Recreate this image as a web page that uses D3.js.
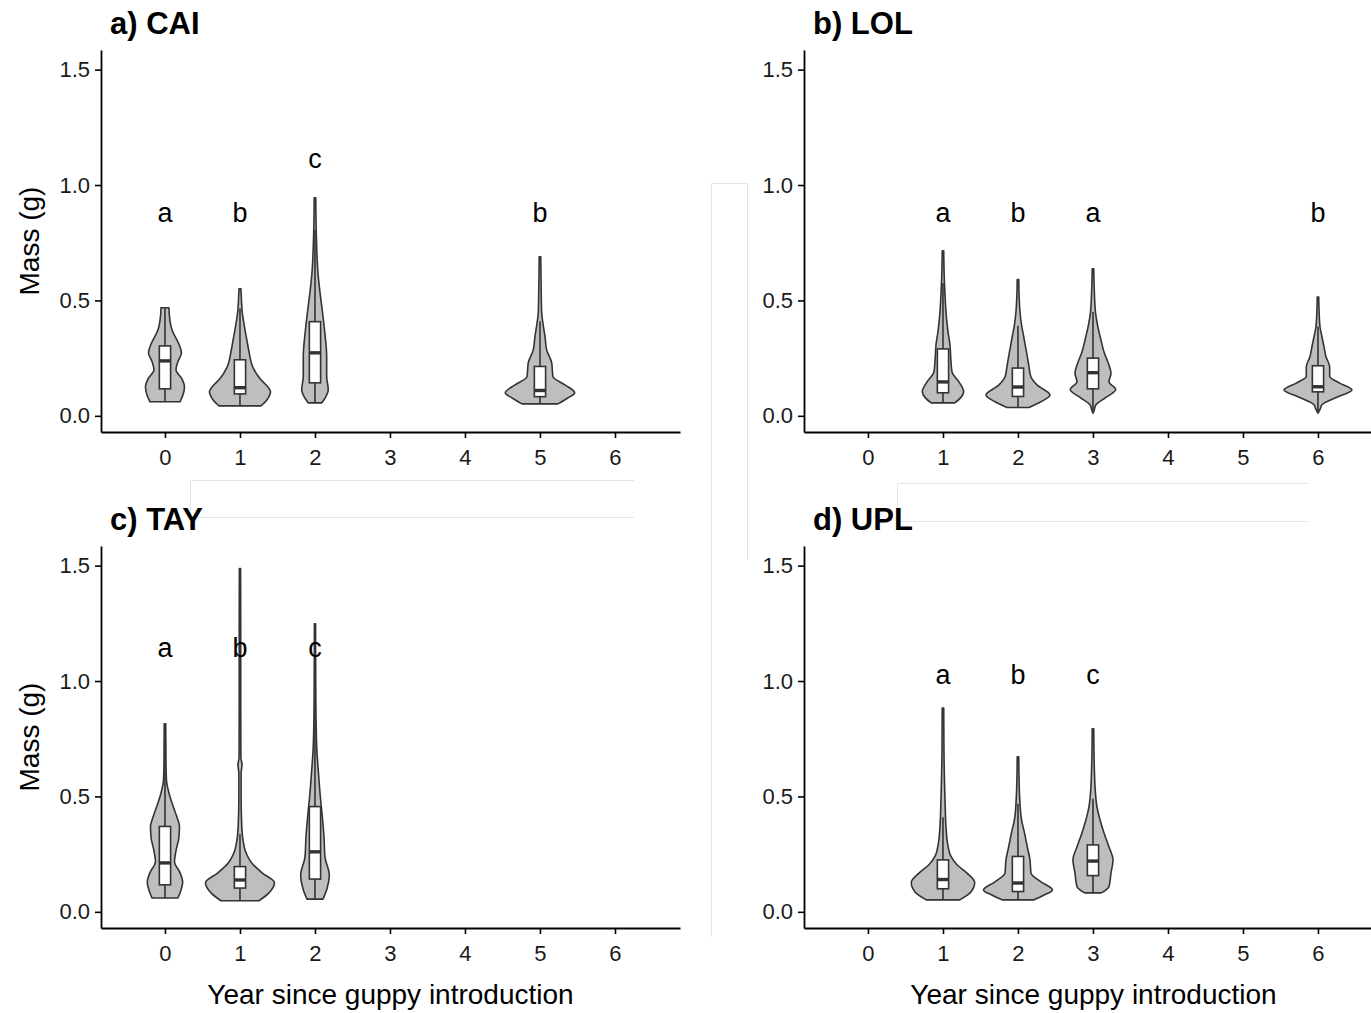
<!DOCTYPE html>
<html>
<head>
<meta charset="utf-8">
<script src="https://cdn.jsdelivr.net/npm/d3@7"></script>
<style>
  html, body { margin: 0; padding: 0; background: #ffffff; }
  svg { display: block; font-family: "Liberation Sans", Arial, Helvetica, sans-serif; }
</style>
</head>
<body>
<svg id="chart" width="1371" height="1013"></svg>
<script>
// ---- data ---------------------------------------------------------------
const yearTicks = [0, 1, 2, 3, 4, 5, 6];
const massTicks = [0, 0.5, 1.0, 1.5];
const siteTitles = ["a) CAI", "b) LOL", "c) TAY", "d) UPL"];
const xTitle = "Year since guppy introduction";
const yTitle = "Mass (g)";

// years sampled at each site
const caiYears = [0, 1, 2, 5];
const lolYears = [1, 2, 3, 6];
const tayYears = [0, 1, 2];
const uplYears = [1, 2, 3];

// significance letters and the mass at which they sit
const caiLetters = ["a", "b", "c", "b"];
const lolLetters = ["a", "b", "a", "b"];
const tayLetters = ["a", "b", "c"];
const uplLetters = ["a", "b", "c"];
const caiLetterMass = [0.84, 0.84, 1.075, 0.84];
const lolLetterMass = [0.84, 0.84, 0.84, 0.84];
const tayLetterMass = [1.105, 1.105, 1.105];
const uplLetterMass = [0.988, 0.988, 0.988];

// box statistics: [lower whisker, Q1, median, Q3, upper whisker]
const caiBoxes = [
  [0.061, 0.117, 0.238, 0.303, 0.468],
  [0.043, 0.095, 0.122, 0.243, 0.465],
  [0.056, 0.143, 0.273, 0.408, 0.806],
  [0.052, 0.083, 0.110, 0.214, 0.410]
];
const lolBoxes = [
  [0.056, 0.100, 0.147, 0.290, 0.575],
  [0.036, 0.084, 0.125, 0.207, 0.390],
  [0.012, 0.117, 0.187, 0.250, 0.450],
  [0.012, 0.104, 0.126, 0.217, 0.387]
];
const tayBoxes = [
  [0.060, 0.117, 0.212, 0.370, 0.750],
  [0.048, 0.103, 0.138, 0.196, 0.336],
  [0.055, 0.142, 0.260, 0.456, 0.926]
];
const uplBoxes = [
  [0.052, 0.100, 0.140, 0.225, 0.410],
  [0.052, 0.088, 0.125, 0.240, 0.468],
  [0.082, 0.157, 0.220, 0.290, 0.490]
];

// violin outlines: [mass, half-width in years]
const caiViolins = [
  [[0.061,0.20],[0.09,0.24],[0.126,0.26],[0.16,0.227],[0.2,0.147],[0.235,0.173],[0.273,0.22],[0.31,0.187],[0.373,0.093],[0.43,0.06],[0.468,0.053]],
  [[0.043,0.28],[0.07,0.36],[0.104,0.407],[0.13,0.36],[0.156,0.28],[0.21,0.173],[0.285,0.116],[0.342,0.084],[0.4,0.053],[0.45,0.03],[0.5,0.02],[0.55,0.013]],
  [[0.056,0.089],[0.08,0.14],[0.113,0.177],[0.17,0.156],[0.256,0.156],[0.373,0.127],[0.46,0.096],[0.546,0.063],[0.62,0.04],[0.76,0.02],[0.945,0.01]],
  [[0.052,0.24],[0.075,0.36],[0.1,0.463],[0.134,0.333],[0.17,0.173],[0.23,0.156],[0.286,0.089],[0.343,0.067],[0.4,0.04],[0.45,0.022],[0.55,0.016],[0.689,0.01]]
];
const lolViolins = [
  [[0.056,0.156],[0.08,0.24],[0.104,0.276],[0.147,0.213],[0.19,0.12],[0.25,0.104],[0.308,0.093],[0.364,0.067],[0.45,0.04],[0.524,0.027],[0.62,0.015],[0.715,0.01]],
  [[0.036,0.147],[0.06,0.3],[0.09,0.427],[0.134,0.253],[0.17,0.171],[0.22,0.144],[0.277,0.113],[0.337,0.08],[0.394,0.047],[0.45,0.027],[0.52,0.015],[0.59,0.01]],
  [[0.012,0.002],[0.03,0.02],[0.048,0.04],[0.077,0.16],[0.114,0.303],[0.148,0.213],[0.185,0.24],[0.22,0.213],[0.277,0.147],[0.337,0.1],[0.394,0.06],[0.45,0.033],[0.54,0.018],[0.637,0.01]],
  [[0.012,0.002],[0.03,0.03],[0.048,0.053],[0.083,0.267],[0.112,0.453],[0.142,0.289],[0.17,0.156],[0.212,0.156],[0.256,0.107],[0.3,0.08],[0.343,0.053],[0.386,0.027],[0.45,0.015],[0.515,0.01]]
];
const tayViolins = [
  [[0.06,0.173],[0.09,0.21],[0.13,0.236],[0.17,0.2],[0.217,0.127],[0.27,0.15],[0.32,0.185],[0.37,0.193],[0.41,0.16],[0.455,0.111],[0.515,0.053],[0.57,0.02],[0.65,0.013],[0.815,0.01]],
  [[0.048,0.253],[0.08,0.38],[0.126,0.46],[0.168,0.3],[0.212,0.156],[0.256,0.08],[0.312,0.04],[0.37,0.024],[0.5,0.015],[0.6,0.015],[0.637,0.027],[0.67,0.012],[0.9,0.01],[1.2,0.01],[1.487,0.008]],
  [[0.055,0.107],[0.1,0.16],[0.16,0.191],[0.238,0.133],[0.325,0.12],[0.428,0.093],[0.515,0.067],[0.6,0.047],[0.69,0.027],[0.8,0.016],[1.0,0.01],[1.248,0.008]]
];
const uplViolins = [
  [[0.052,0.223],[0.085,0.37],[0.127,0.423],[0.168,0.32],[0.204,0.187],[0.24,0.107],[0.3,0.06],[0.37,0.04],[0.485,0.027],[0.7,0.013],[0.883,0.01]],
  [[0.052,0.213],[0.07,0.33],[0.095,0.46],[0.13,0.307],[0.168,0.173],[0.225,0.16],[0.282,0.124],[0.342,0.087],[0.4,0.047],[0.485,0.024],[0.58,0.014],[0.672,0.01]],
  [[0.082,0.111],[0.109,0.213],[0.168,0.24],[0.225,0.267],[0.282,0.213],[0.342,0.147],[0.4,0.093],[0.456,0.053],[0.515,0.033],[0.6,0.02],[0.7,0.013],[0.793,0.01]]
];

// ---- layout -------------------------------------------------------------
const svg = d3.select("#chart");
const xDomain = [-0.853, 6.867];
const yDomain = [-0.07, 1.585];
const boxHalf = 0.075;          // half box width, in years

const panels = [
  { title: siteTitles[0], years: caiYears, letters: caiLetters, letterMass: caiLetterMass, boxes: caiBoxes, violins: caiViolins,
    left: 101, right: 680, top: 50, bottom: 432, yLabel: true, xLabel: false },
  { title: siteTitles[1], years: lolYears, letters: lolLetters, letterMass: lolLetterMass, boxes: lolBoxes, violins: lolViolins,
    left: 804, right: 1383, top: 50, bottom: 432, yLabel: false, xLabel: false },
  { title: siteTitles[2], years: tayYears, letters: tayLetters, letterMass: tayLetterMass, boxes: tayBoxes, violins: tayViolins,
    left: 101, right: 680, top: 546, bottom: 928, yLabel: true, xLabel: true },
  { title: siteTitles[3], years: uplYears, letters: uplLetters, letterMass: uplLetterMass, boxes: uplBoxes, violins: uplViolins,
    left: 804, right: 1383, top: 546, bottom: 928, yLabel: false, xLabel: true }
];

// faint frame remnants left between the panels
const frame = svg.append("g").attr("fill", "none").attr("stroke", "#e4e4e4").attr("stroke-width", 1);
frame.append("path").attr("d", "M711.5,937 V183.5 H747.5 V560");
frame.append("path").attr("d", "M634,480.5 H190.5 V517.5 H634");
frame.append("path").attr("d", "M1308,483.5 H897.5 V521.5 H1308");

const ink = "#333333";

panels.forEach(p => {
  const x = d3.scaleLinear().domain(xDomain).range([p.left, p.right]);
  const y = d3.scaleLinear().domain(yDomain).range([p.bottom, p.top]);
  const g = svg.append("g");

  // violins
  p.violins.forEach((prof, i) => {
    const yr = p.years[i];
    const area = d3.area()
      .y(d => y(d[0]))
      .x0(d => x(yr - d[1]))
      .x1(d => x(yr + d[1]))
      .curve(d3.curveMonotoneY);
    g.append("path")
      .attr("d", area(prof))
      .attr("fill", "#bebebe")
      .attr("stroke", ink)
      .attr("stroke-width", 1.6)
      .attr("stroke-linejoin", "round");
  });

  // boxplots
  p.boxes.forEach((b, i) => {
    const yr = p.years[i];
    const [lo, q1, med, q3, hi] = b;
    g.append("line")
      .attr("x1", x(yr)).attr("x2", x(yr))
      .attr("y1", y(lo)).attr("y2", y(hi))
      .attr("stroke", ink).attr("stroke-width", 1.6);
    g.append("rect")
      .attr("x", x(yr - boxHalf)).attr("width", x(yr + boxHalf) - x(yr - boxHalf))
      .attr("y", y(q3)).attr("height", y(q1) - y(q3))
      .attr("fill", "#ffffff").attr("stroke", ink).attr("stroke-width", 1.6);
    g.append("line")
      .attr("x1", x(yr - boxHalf)).attr("x2", x(yr + boxHalf))
      .attr("y1", y(med)).attr("y2", y(med))
      .attr("stroke", ink).attr("stroke-width", 3.4);
  });

  // significance letters
  p.letters.forEach((l, i) => {
    g.append("text")
      .attr("x", x(p.years[i])).attr("y", y(p.letterMass[i]))
      .attr("text-anchor", "middle")
      .attr("font-size", 27).attr("fill", "#000")
      .text(l);
  });

  // axes
  const yAxis = g.append("g").attr("transform", `translate(${p.left},0)`)
    .call(d3.axisLeft(y).tickValues(massTicks).tickFormat(d3.format(".1f")).tickSize(6).tickSizeOuter(0).tickPadding(5));
  const xAxis = g.append("g").attr("transform", `translate(0,${p.bottom})`)
    .call(d3.axisBottom(x).tickValues(yearTicks).tickFormat(d3.format("d")).tickSize(6).tickSizeOuter(0).tickPadding(11));
  [yAxis, xAxis].forEach(a => {
    a.select(".domain").attr("stroke", "#000").attr("stroke-width", 1.8);
    a.selectAll(".tick line").attr("stroke", "#000").attr("stroke-width", 1.6);
    a.selectAll(".tick text").attr("font-size", 22).attr("fill", "#1a1a1a")
      .attr("font-family", "'Liberation Sans', Arial, sans-serif");
  });

  // panel title
  svg.append("text")
    .attr("x", p.left + 9).attr("y", p.top - 16)
    .attr("font-size", 31).attr("font-weight", "bold").attr("fill", "#000")
    .text(p.title);

  if (p.yLabel) {
    svg.append("text")
      .attr("transform", `translate(39,${(p.top + p.bottom) / 2}) rotate(-90)`)
      .attr("text-anchor", "middle")
      .attr("font-size", 28).attr("fill", "#000")
      .text(yTitle);
  }
  if (p.xLabel) {
    svg.append("text")
      .attr("x", (p.left + p.right) / 2).attr("y", 1004)
      .attr("text-anchor", "middle")
      .attr("font-size", 28).attr("fill", "#000")
      .text(xTitle);
  }
});
</script>
</body>
</html>
